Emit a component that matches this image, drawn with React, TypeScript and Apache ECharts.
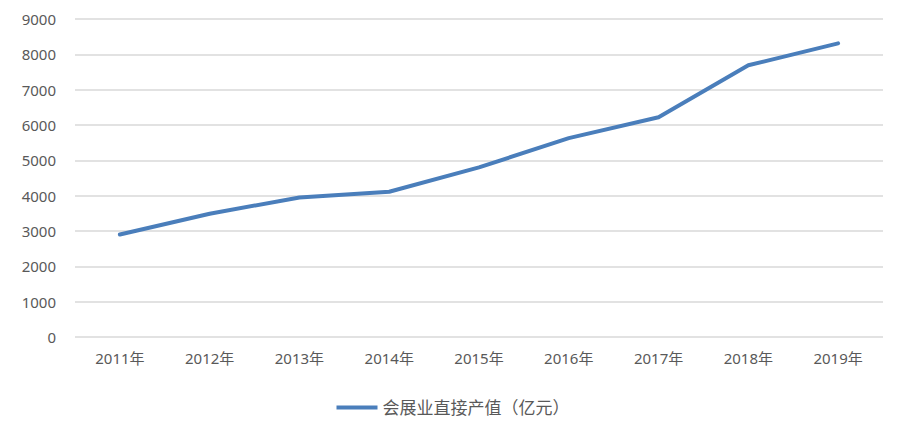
import React, { useEffect, useRef } from "react";
import * as echarts from "echarts";

const categories = ["2011年", "2012年", "2013年", "2014年", "2015年", "2016年", "2017年", "2018年", "2019年"];
const values = [2900, 3490, 3950, 4110, 4800, 5630, 6220, 7690, 8310];
const seriesName = "会展业直接产值（亿元）";

export default function App() {
  const ref = useRef<HTMLDivElement>(null);
  useEffect(() => {
    if (!ref.current) return;
    const chart = echarts.init(ref.current, null, { renderer: "svg" });
    const font = "'Noto Sans', 'Noto Sans CJK SC', sans-serif";
    chart.setOption({
      animation: false,
      backgroundColor: "#ffffff",
      textStyle: { fontFamily: font },
      grid: { left: 75, right: 23, top: 19, bottom: 97, containLabel: false },
      legend: {
        bottom: 13,
        left: "center",
        itemWidth: 41,
        itemHeight: 4,
        itemGap: 4,
        icon: "rect",
        textStyle: { color: "#595959", fontSize: 17, fontFamily: font },
        data: [seriesName],
      },
      xAxis: {
        type: "category",
        data: categories,
        boundaryGap: true,
        axisLine: { show: false },
        axisTick: { show: false },
        axisLabel: { color: "#595959", fontSize: 15, margin: 13, fontFamily: font },
      },
      yAxis: {
        type: "value",
        min: 0,
        max: 9000,
        interval: 1000,
        axisLine: { show: false },
        axisTick: { show: false },
        splitLine: { lineStyle: { color: "#d9d9d9", width: 1.5 } },
        axisLabel: {
          color: "#595959",
          fontSize: 15,
          margin: 19,
          fontFamily: font,
          formatter: (v: number) => String(v),
        },
      },
      series: [
        {
          name: seriesName,
          type: "line",
          data: values,
          symbol: "none",
          lineStyle: { color: "#4a7ebb", width: 4, cap: "round", join: "round" },
          itemStyle: { color: "#4a7ebb" },
        },
      ],
    });
    return () => chart.dispose();
  }, []);
  return <div ref={ref} style={{ width: 906, height: 434, position: "absolute", left: 0, top: 0 }} />;
}
